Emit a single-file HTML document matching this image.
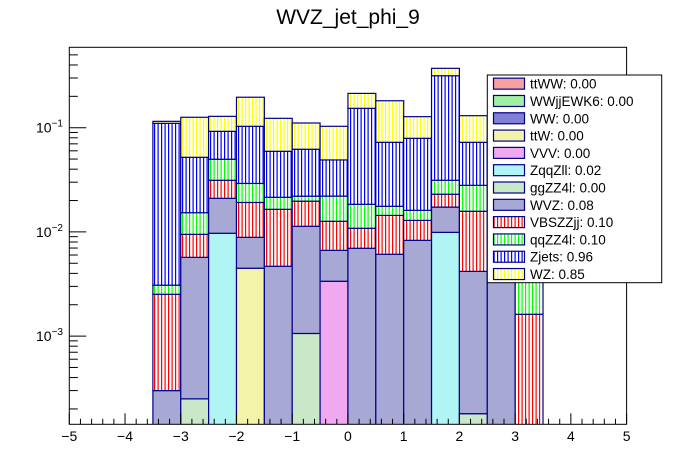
<!DOCTYPE html>
<html><head><meta charset="utf-8">
<style>
html,body{margin:0;padding:0;background:#fff;}
svg{display:block;font-family:"Liberation Sans",Arial,sans-serif;}
</style></head>
<body>
<svg id="chart" width="696" height="472" viewBox="0 0 696 472" xmlns="http://www.w3.org/2000/svg">
<defs>
  <pattern id="vh-red" patternUnits="userSpaceOnUse" width="3.5" height="4"><rect width="3.5" height="4" fill="#fff"/><rect width="1.2" height="4" fill="#f00"/></pattern>
  <pattern id="vh-green" patternUnits="userSpaceOnUse" width="3.5" height="4"><rect width="3.5" height="4" fill="#fff"/><rect width="1.2" height="4" fill="#0f0"/></pattern>
  <pattern id="vh-blue" patternUnits="userSpaceOnUse" width="3.5" height="4"><rect width="3.5" height="4" fill="#fff"/><rect width="1.2" height="4" fill="#00f"/></pattern>
  <pattern id="vh-yellow" patternUnits="userSpaceOnUse" width="3.5" height="4"><rect width="3.5" height="4" fill="#fff"/><rect width="1.2" height="4" fill="#ff0"/></pattern>
  <clipPath id="frameclip"><rect x="69.3" y="47.3" width="557.3" height="377"/></clipPath>
</defs>
<text x="348" y="24" font-size="21" text-anchor="middle">WVZ_jet_phi_9</text>
<g id="bars" clip-path="url(#frameclip)"></g>
<rect x="69.3" y="47.3" width="557.3" height="377" fill="none" stroke="#000" stroke-width="1"/>
<g id="axes"></g>
<g id="legend"></g>
</svg>
<script>
const binEdges = [-3.5,-3,-2.5,-2,-1.5,-1,-0.5,0,0.5,1,1.5,2,2.5,3,3.5];
const seriesNames = ["ttWW","WWjjEWK6","WW","ttW","VVV","ZqqZll","ggZZ4l","WVZ","VBSZZjj","qqZZ4l","Zjets","WZ"];
const legendLabels = ["ttWW: 0.00","WWjjEWK6: 0.00","WW: 0.00","ttW: 0.00","VVV: 0.00","ZqqZll: 0.02","ggZZ4l: 0.00","WVZ: 0.08","VBSZZjj: 0.10","qqZZ4l: 0.10","Zjets: 0.96","WZ: 0.85"];
const ttWW     = [0,0,0,0,0,0,0,0,0,0,0,0,0,0];
const WWjjEWK6 = [0,0,0,0,0,0,0,0,0,0,0,0,0,0];
const WW       = [0,0,0,0,0,0,0,0,0,0,0,0,0,0];
const ttW      = [0,0,0,0.00448,0,0,0,0,0,0,0,0,0,0];
const VVV      = [0,0,0,0,0,0,0.00336,0,0,0,0,0,0,0];
const ZqqZll   = [0,0,0.0097,0,0,0,0,0,0,0,0.0099,0,0,0];
const ggZZ4l   = [0,0.00025,0,0,0,0.00106,0,0,0,0,0,0.00018,0,0];
const WVZ      = [0.0003,0.00545,0.0113,0.00439,0.00468,0.01026,0.00329,0.00697,0.0061,0.0083,0.0074,0.0040,0.0042,0];
const VBSZZjj  = [0.00222,0.00378,0.0103,0.0103,0.0118,0.0084,0.0060,0.00387,0.0083,0.0046,0.0057,0.0116,0.0030,0.00162];
const qqZZ4l   = [0.00056,0.0058,0.0185,0.0100,0.0050,0.0023,0.0094,0.00756,0.0032,0.0032,0.0083,0.0122,0.0040,0.0035];
const Zjets    = [0.107,0.0367,0.0425,0.0739,0.0379,0.0401,0.027,0.135,0.0548,0.063,0.284,0.0444,0.030,0];
const WZ       = [0.005,0.0739,0.0362,0.093,0.0636,0.0488,0.0541,0.060,0.109,0.0485,0.056,0.058,0.040,0];
const xTickLabels = ["−5","−4","−3","−2","−1","0","1","2","3","4","5"];
const yDecades = [-1,-2,-3];

const seriesData = [ttWW,WWjjEWK6,WW,ttW,VVV,ZqqZll,ggZZ4l,WVZ,VBSZZjj,qqZZ4l,Zjets,WZ];
const fills = ["#f8a0a0","#a0f0a0","#8080d8","#f4f4a8","#f0a8f0","#b0f4f4","#c8e8c8","#a8a8d4","url(#vh-red)","url(#vh-green)","url(#vh-blue)","url(#vh-yellow)"];
const X0=69.3, X1=626.6, Y0=47.3, Y1=424.3;
function xs(v){ return X0 + (v+5)/10*(X1-X0); }
function ys(v){ return 127.7 - 104.2*(Math.log10(v)+1); }
const NS="http://www.w3.org/2000/svg";
function mk(tag, attrs, parent){ const e=document.createElementNS(NS,tag); for(const k in attrs) e.setAttribute(k,attrs[k]); parent.appendChild(e); return e; }

const bars=document.getElementById('bars');
for(let b=0;b<binEdges.length-1;b++){
  let cum=0;
  for(let s=0;s<seriesData.length;s++){
    const v=seriesData[s][b];
    if(!(v>0)) continue;
    const lo=cum, hi=cum+v; cum=hi;
    const yTop=ys(hi), yBot= lo>0? ys(lo) : Y1+5;
    const r=mk('rect',{x:xs(binEdges[b]),y:yTop,width:xs(binEdges[b+1])-xs(binEdges[b]),height:yBot-yTop,fill:fills[s],stroke:'#00008c','stroke-width':1.2},bars);
    
    
  }
}

const axes=document.getElementById('axes');
for(let t=-5;t<=5.0001;t+=0.2){
  const tt=Math.round(t*10)/10;
  const major=Math.abs(tt-Math.round(tt))<1e-6;
  const l=mk('line',{x1:xs(tt),x2:xs(tt),y1:Y1,y2:Y1-(major?11:5.5),stroke:'#000','stroke-width':1},axes);
  
  
}
xTickLabels.forEach((lab,i)=>{
  const t=mk('text',{x:xs(i-5),y:441,'font-size':14,'text-anchor':'middle'},axes);
  t.textContent=lab;
  
  
});
for(let d=-4;d<=0;d++){
  for(let m=1;m<=9;m++){
    const v=m*Math.pow(10,d);
    const y=ys(v);
    if(y<Y0||y>Y1) continue;
    const l=mk('line',{x1:X0,x2:X0+(m===1?17:8.5),y1:y,y2:y,stroke:'#000','stroke-width':1},axes);
    
    
  }
}
yDecades.forEach(d=>{
  const t=mk('text',{x:36,y:ys(Math.pow(10,d))+5,'font-size':14},axes);
  
  
  t.textContent='10';
  const sup=mk('tspan',{dy:-6,'font-size':10},t);
  sup.textContent='−'+(-d);
});

const leg=document.getElementById('legend');
const lb=mk('rect',{x:487.3,y:75,width:174.4,height:207.7,fill:'#fff',stroke:'#000','stroke-width':1},leg);


const rowH=207.7/12;
legendLabels.forEach((lab,i)=>{
  const cy=75+rowH*(i+0.5);
  const g=mk('g',{},leg);
  
  
  mk('rect',{x:493.5,y:cy-5.5,width:31,height:11,fill:fills[i],stroke:'#00008c','stroke-width':1.2},g);
  const t=mk('text',{x:530,y:cy+5,'font-size':13.5},g);
  t.textContent=lab;
});
</script>
</body></html>
